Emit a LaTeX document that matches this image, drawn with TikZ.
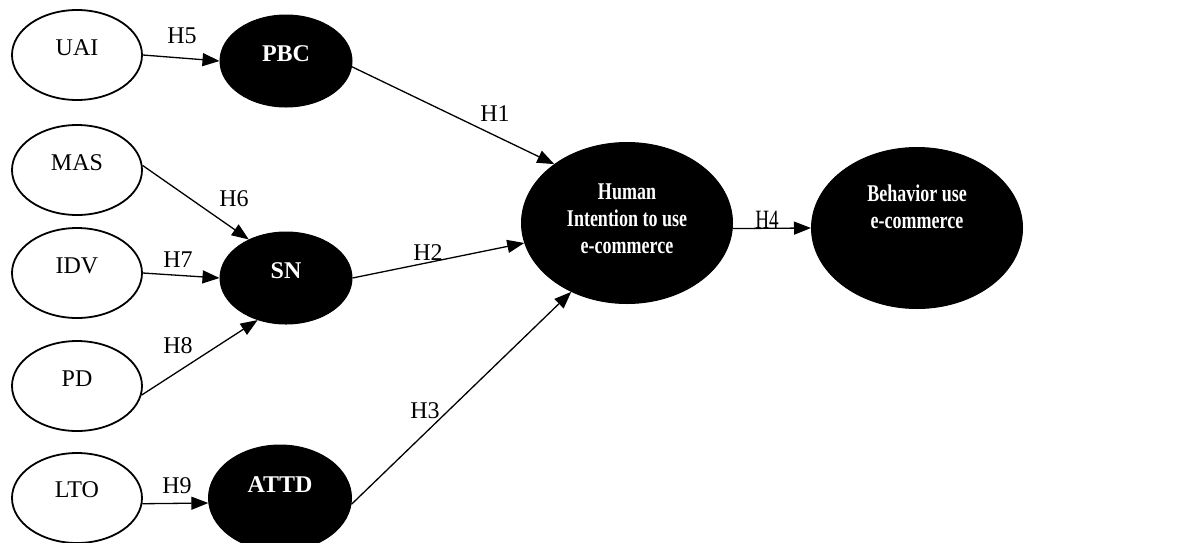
\documentclass[tikz,border=0pt]{standalone}
\usepackage{fontspec}
\setmainfont{Liberation Serif}
\usetikzlibrary{shapes.geometric,arrows.meta}
\begin{document}
\begin{tikzpicture}[x=1pt,y=-1pt,
  oval/.style={ellipse,draw=black,line width=1.8pt,inner sep=0pt,minimum width=130pt,minimum height=90pt},
  dark/.style={ellipse,draw=black,fill=black,line width=1pt,inner sep=0pt},
  lbl/.style={anchor=base,inner sep=0pt,font=\fontsize{24}{28}\selectfont},
  wlbl/.style={anchor=base,inner sep=0pt,text=white,font=\fontsize{24}{28}\selectfont\bfseries},
  big/.style={align=center,inner sep=0pt,text=white,font=\fontsize{24}{27}\selectfont\bfseries},
  hyp/.style={anchor=base,inner sep=0pt,font=\fontsize{24}{28}\selectfont},
  conn/.style={line width=1.3pt,-{Triangle[length=17pt,width=13pt]}}]
\useasboundingbox (0,0) rectangle (1186,542);
% left ovals
\node[oval] (uai) at (77,55) {};
\node[oval] (mas) at (77,170) {};
\node[oval] (idv) at (77,273) {};
\node[oval] (pd) at (77,386) {};
\node[oval] (lto) at (77,498) {};
\node[lbl] (uait) at (77,55) {UAI};
\node[lbl] (mast) at (77,170) {MAS};
\node[lbl] (idvt) at (77,273) {IDV};
\node[lbl] (pdt) at (77,386) {PD};
\node[lbl] (ltot) at (77,497) {LTO};
% dark ovals
\node[dark,minimum width=132pt,minimum height=92pt] (pbc) at (286,61) {};
\node[dark,minimum width=132pt,minimum height=92pt] (sn) at (286,278) {};
\node[dark,minimum width=143pt,minimum height=106pt] (attd) at (280,498) {};
\node[dark,minimum width=211pt,minimum height=161pt] (hum) at (627,223) {};
\node[dark,minimum width=211pt,minimum height=161pt] (beh) at (917,228) {};
\node[wlbl] (pbct) at (286,61) {PBC};
\node[wlbl] (snt) at (286,278) {SN};
\node[wlbl] (attdt) at (280,492) {ATTD};
\node[big] (humt) at (627,219) {\scalebox{0.75}[1]{Human}\\\scalebox{0.75}[1]{Intention to use}\\\scalebox{0.75}[1]{e-commerce}};
\node[big] (beht) at (917,207) {\scalebox{0.75}[1]{Behavior use}\\\scalebox{0.75}[1]{e-commerce}};
% connectors
\draw[conn] (uai.east) -- (pbc.west);
\draw[conn] (pbc.-5) -- (hum.141);
\draw[conn] (mas.4) -- (sn.134);
\draw[conn] (idv.east) -- (sn.west);
\draw[conn] (pd.-8) -- (sn.236);
\draw[conn] (sn.east) -- (hum.191);
\draw[conn] (lto.-5) -- (attd.-176);
\draw[conn] (attd.-5) -- (hum.231);
\draw[conn] (hum.-3) -- (beh.west);
% hypothesis labels
\node[hyp] (h5) at (182,43) {H5};
\node[hyp] (h1) at (495,121) {H1};
\node[hyp] (h6) at (234,206) {H6};
\node[hyp] (h7) at (178,267) {H7};
\node[hyp] (h2) at (428,260) {H2};
\node[hyp] (h8) at (178,353) {H8};
\node[hyp] (h3) at (425,418) {H3};
\node[hyp] (h9) at (177,493) {H9};
\node[hyp] (h4) at (767,228) {\scalebox{0.8}[1.1]{H4}};
\end{tikzpicture}
\end{document}
